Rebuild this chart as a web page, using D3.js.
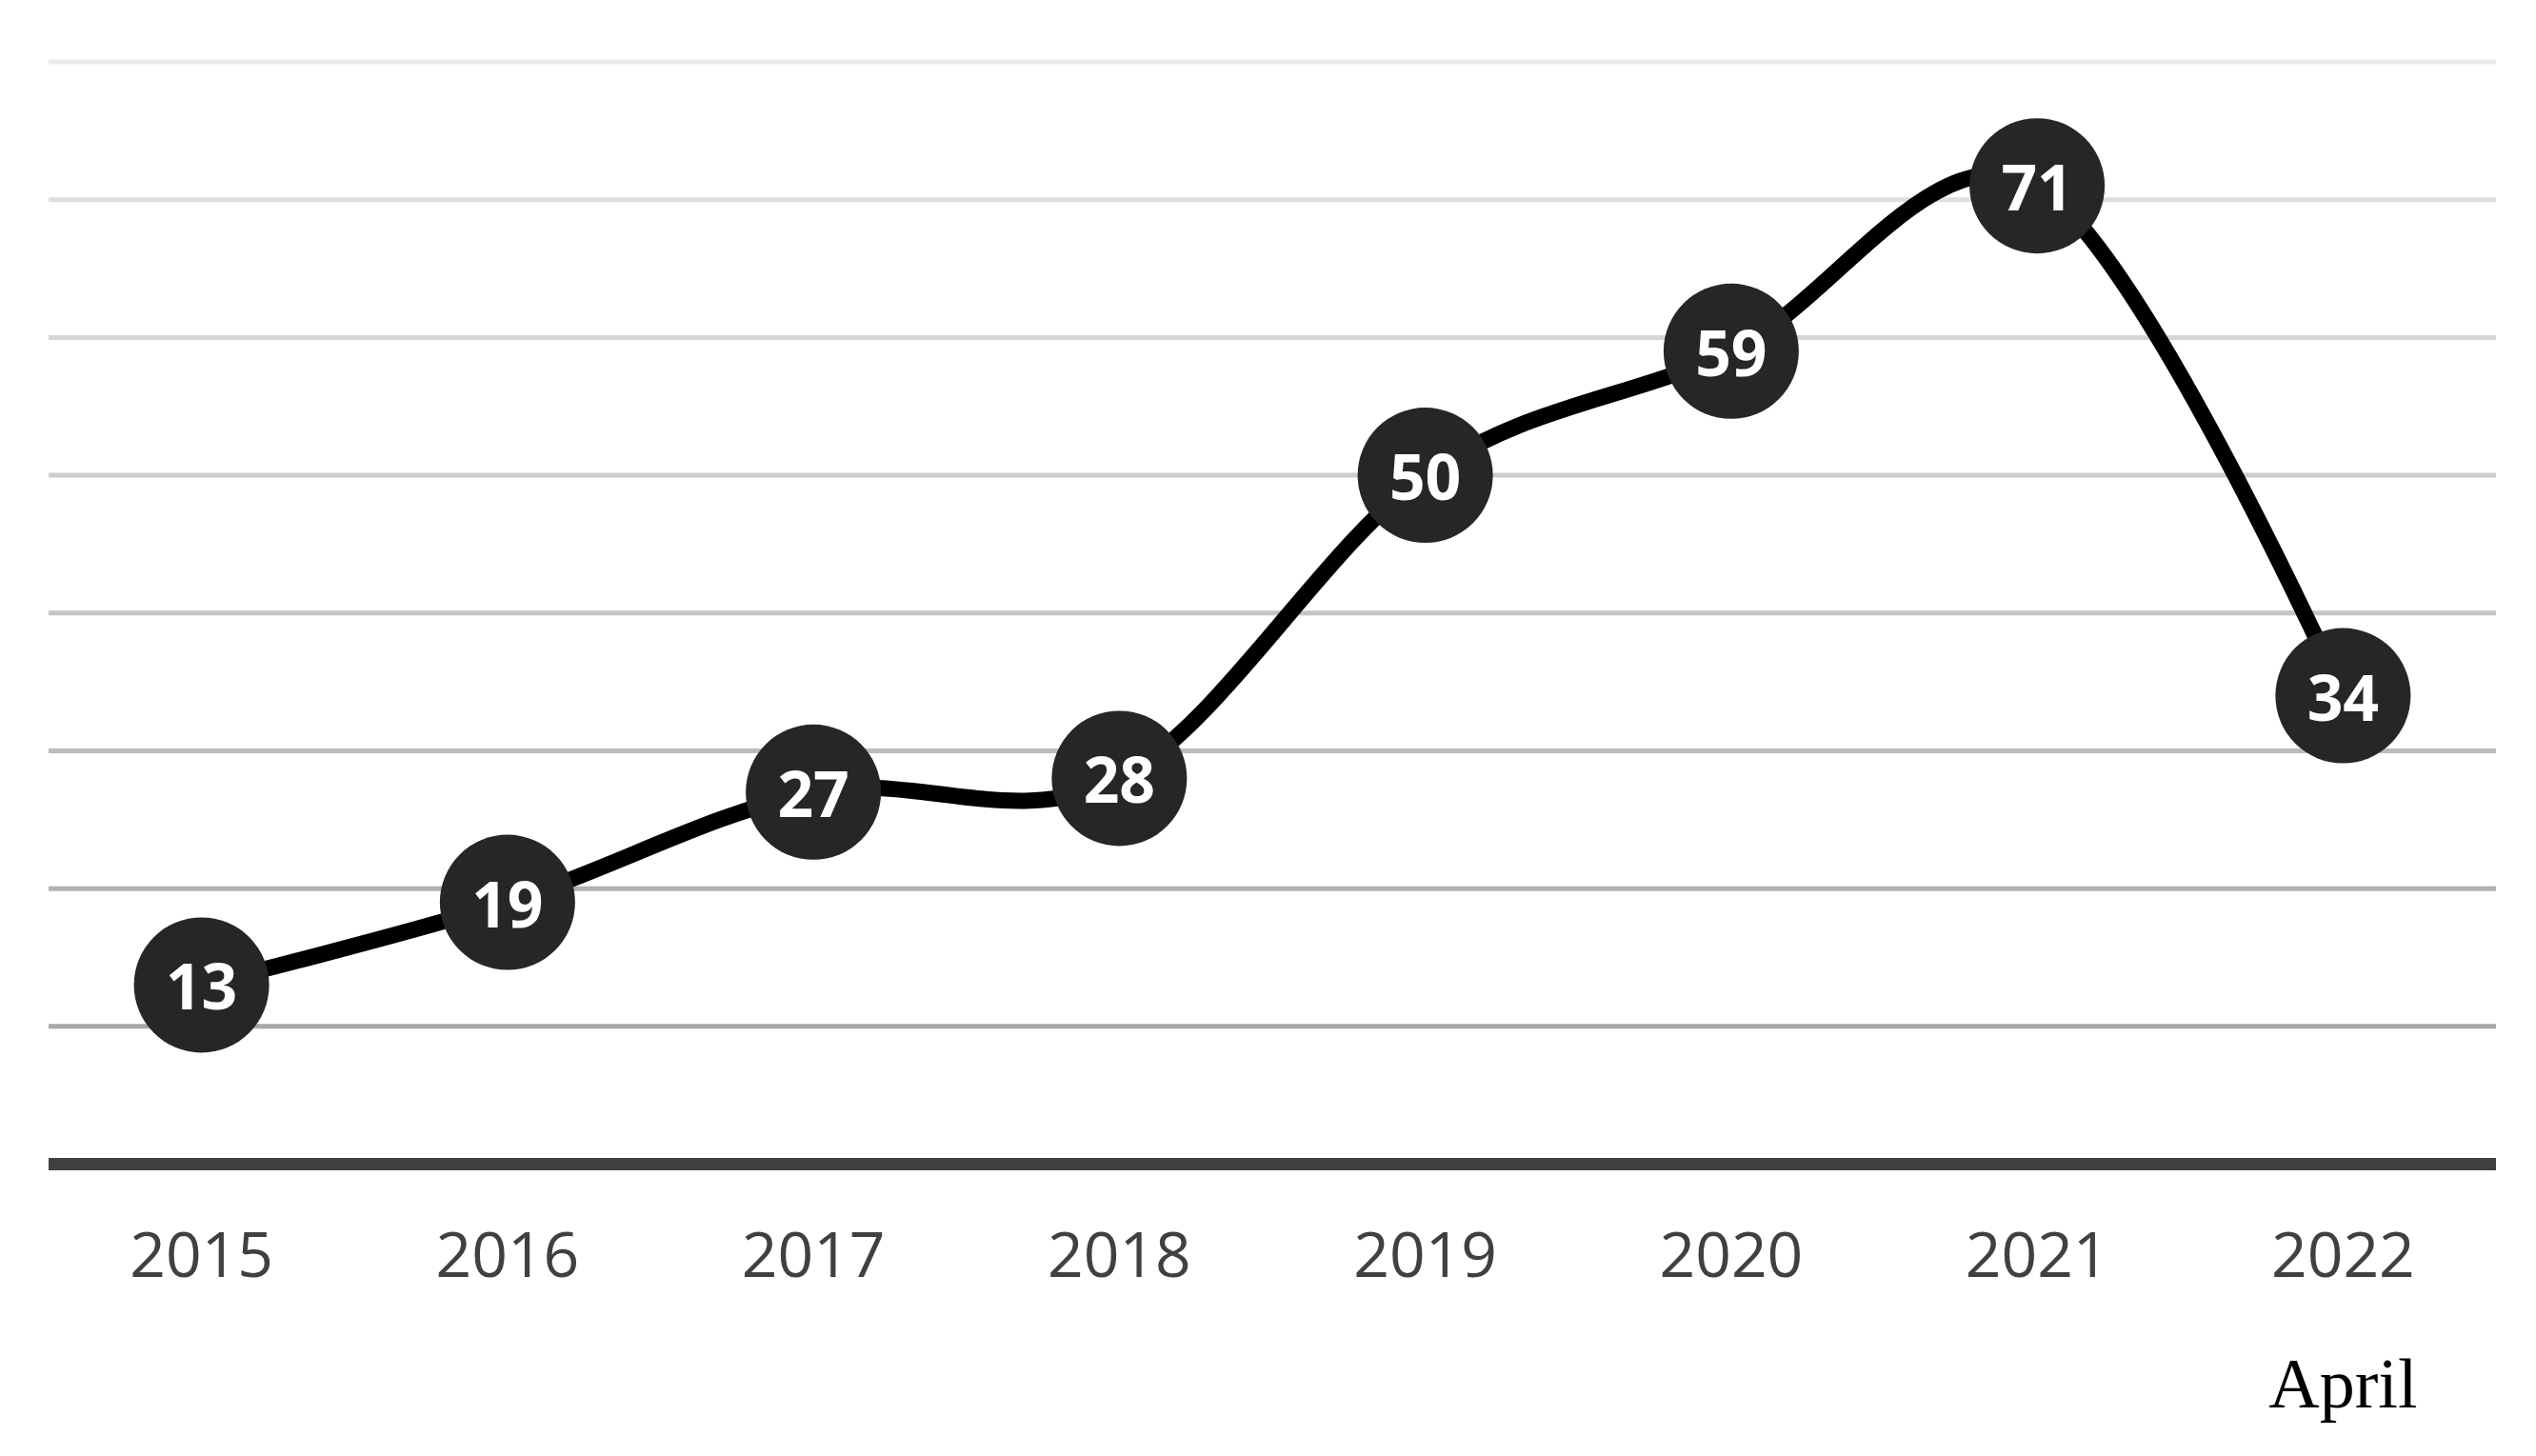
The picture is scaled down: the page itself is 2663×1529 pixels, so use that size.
<!DOCTYPE html>
<html>
<head>
<meta charset="utf-8">
<script src="https://cdn.jsdelivr.net/npm/d3@7"></script>
<style>
  html, body { margin: 0; padding: 0; background: #fff; }
  svg { display: block; }
</style>
</head>
<body>
<svg id="chart" width="2663" height="1529"></svg>
<script>
const categories = ["2015", "2016", "2017", "2018", "2019", "2020", "2021", "2022"];
const values = [13, 19, 27, 28, 50, 59, 71, 34];
const gridValues = [10, 20, 30, 40, 50, 60, 70, 80];
const gridColors = ["#a7a7a7", "#b1b1b1", "#bbbbbb", "#c4c4c4", "#cdcdcd", "#d5d5d5", "#dedede", "#ebebeb"];
const footnote = "April";

const W = 2663, H = 1529;
const left = 51, right = 2621, zeroY = 1222.5, topY = 65;

const svg = d3.select("#chart");

const x = d3.scaleBand().domain(categories).range([left, right]).padding(0);
const y = d3.scaleLinear().domain([0, 80]).range([zeroY, topY]);
const cx = d => x(d) + x.bandwidth() / 2;

// gridlines
svg.append("g").selectAll("line")
  .data(gridValues)
  .join("line")
  .attr("x1", left).attr("x2", right)
  .attr("y1", d => y(d)).attr("y2", d => y(d))
  .attr("stroke", (d, i) => gridColors[i])
  .attr("stroke-width", 5);

// baseline
svg.append("line")
  .attr("x1", left).attr("x2", right)
  .attr("y1", y(0)).attr("y2", y(0))
  .attr("stroke", "#404040")
  .attr("stroke-width", 13);

// x axis labels
const xAxis = d3.axisBottom(x).tickSize(0).tickPadding(0);
const gx = svg.append("g").attr("transform", `translate(0,${y(0)})`).call(xAxis);
gx.select(".domain").remove();
gx.selectAll("text")
  .attr("y", 118)
  .attr("dy", 0)
  .attr("font-family", "'Open Sans', sans-serif")
  .attr("font-size", 66)
  .attr("fill", "#404040");

// line
const pts = categories.map((c, i) => [cx(c), y(values[i])]);
svg.append("path")
  .datum(pts)
  .attr("d", d3.line().curve(d3.curveCardinal.tension(0)))
  .attr("fill", "none")
  .attr("stroke", "#000")
  .attr("stroke-width", 17)
  .attr("stroke-linejoin", "round");

// markers
const g = svg.append("g");
g.selectAll("circle")
  .data(values)
  .join("circle")
  .attr("cx", (d, i) => cx(categories[i]))
  .attr("cy", d => y(d))
  .attr("r", 71)
  .attr("fill", "#262626");

g.selectAll("text")
  .data(values)
  .join("text")
  .attr("x", (d, i) => cx(categories[i]))
  .attr("y", d => y(d) + 26)
  .attr("text-anchor", "middle")
  .attr("font-family", "'Open Sans', sans-serif")
  .attr("font-weight", "bold")
  .attr("font-size", 66)
  .attr("fill", "#fff")
  .text(d => d);

// footnote
svg.append("text")
  .attr("x", cx("2022"))
  .attr("y", 1478)
  .attr("text-anchor", "middle")
  .attr("font-family", "'Liberation Serif', 'Times New Roman', serif")
  .attr("font-size", 74)
  .attr("fill", "#000")
  .text(footnote);
</script>
</body>
</html>
